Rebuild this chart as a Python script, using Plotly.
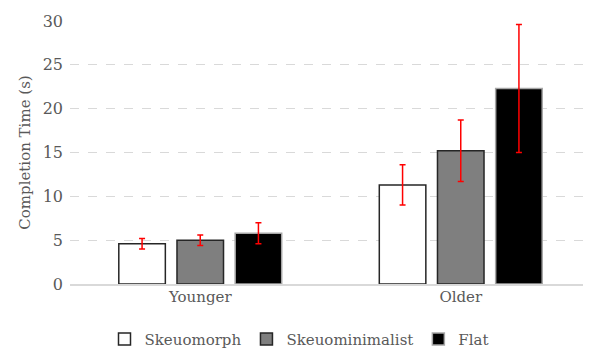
import plotly.graph_objects as go

# --- data ---
groups = ["Younger", "Older"]
styles = ["Skeuomorph", "Skeuominimalist", "Flat"]
skeuomorph = [4.6, 11.3]
skeuominimalist = [5.0, 15.2]
flat = [5.8, 22.3]
err_skeuomorph = [0.6, 2.3]
err_skeuominimalist = [0.6, 3.5]
err_flat = [1.2, 7.3]

fills = ["#ffffff", "#7f7f7f", "#000000"]
outlines = ["#262626", "#262626", "#a6a6a6"]

fig = go.Figure()
series = [skeuomorph, skeuominimalist, flat]
errors = [err_skeuomorph, err_skeuominimalist, err_flat]
for name, vals, errs, fc, lc in zip(styles, series, errors, fills, outlines):
    fig.add_trace(go.Bar(
        x=groups, y=vals, name=name,
        marker=dict(color=fc, line=dict(color=lc, width=1.5)),
        error_y=dict(type="data", array=errs, color="#ff0000", thickness=1.5, width=3),
    ))

# Liberation Serif is not picked up by the renderer, DejaVu Serif is
font = "DejaVu Serif"
fig.update_layout(
    width=583, height=345,
    margin=dict(l=62, r=0, t=13, b=69),
    paper_bgcolor="white", plot_bgcolor="white",
    barmode="group", bargap=0.33, bargroupgap=0.2,
    font=dict(family=font, size=15, color="#595959"),
    showlegend=True,
    legend=dict(orientation="h", xref="container", x=0.5, xanchor="center",
                yref="container", y=0.04, yanchor="middle",
                font=dict(family=font, size=15, color="#595959"), itemwidth=30,
                traceorder="normal"),
)
fig.update_yaxes(range=[0, 30], dtick=5, showgrid=True, gridcolor="#d9d9d9",
                 griddash="dash", gridwidth=1, zeroline=False,
                 title=dict(text="Completion Time (s)", font=dict(family=font, size=15), standoff=8),
                 tickfont=dict(family=font, size=16),
                 ticks="", ticklabelstandoff=6)
fig.update_xaxes(showline=True, linecolor="#d9d9d9", linewidth=1.5, ticks="",
                 tickfont=dict(family=font, size=15), ticklabelstandoff=-2)

fig.write_html("out.html")
